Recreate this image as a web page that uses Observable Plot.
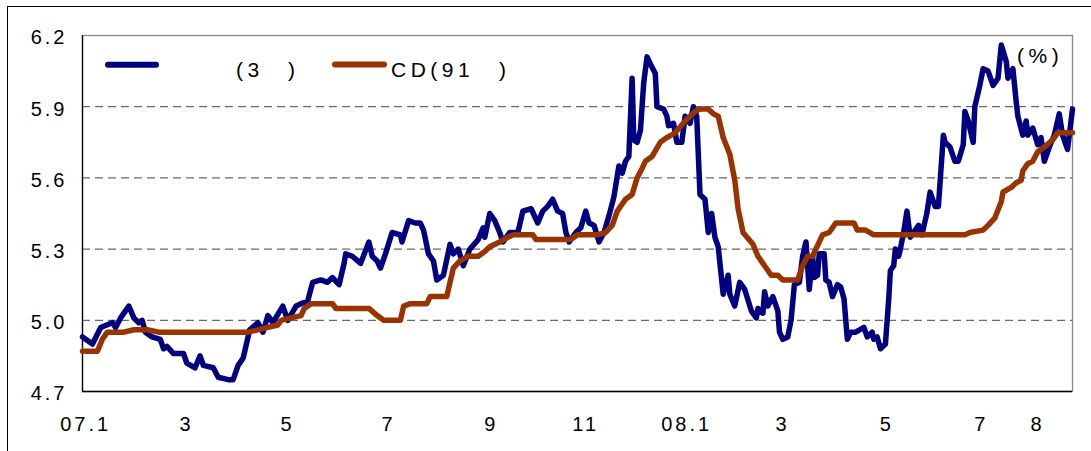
<!DOCTYPE html>
<html>
<head>
<meta charset="utf-8">
<script src="https://cdn.jsdelivr.net/npm/d3@7"></script>
<script src="https://cdn.jsdelivr.net/npm/@observablehq/plot@0.6"></script>
<style>
  body { margin: 0; background: #fff; font-family: "Liberation Sans", Arial, sans-serif; }
  #wrap { position: relative; width: 1091px; height: 451px; overflow: hidden; background: #fff; }
  #outer { position: absolute; left: 7px; top: 6px; width: 1200px; height: 600px; border: 1px solid #000; }
  #chart { position: absolute; left: 0; top: 0; }
  #legend { position: absolute; left: 0; top: 0; pointer-events: none; }
  #legend text { font-family: "Liberation Sans", Arial, sans-serif; font-size: 21px; letter-spacing: 4.5px; fill: #000; }
</style>
</head>
<body>
<div id="wrap">
  <div id="outer"></div>
  <div id="chart"></div>
  <svg id="legend" width="1091" height="451">
    <line x1="108" x2="156" y1="64.7" y2="64.7" stroke="#000080" stroke-width="6" stroke-linecap="round"></line>
    <text x="236" y="76.5">(3</text>
    <text x="288" y="76.5">)</text>
    <line x1="335" x2="384" y1="64.5" y2="64.5" stroke="#993300" stroke-width="6" stroke-linecap="round"></line>
    <text x="391" y="76.5">CD(91</text>
    <text x="499" y="76.5">)</text>
    <text x="1017" y="62.5">(%)</text>
  </svg>
</div>
<script>
// 3-year treasury yield (navy)
const t3Dates = [
"2007-01-02","2007-01-08","2007-01-13","2007-01-20","2007-01-22","2007-01-25","2007-01-30","2007-02-02","2007-02-05","2007-02-07",
"2007-02-09","2007-02-13","2007-02-18","2007-02-20","2007-02-22","2007-02-26","2007-03-04","2007-03-06","2007-03-11","2007-03-14",
"2007-03-16","2007-03-22","2007-03-25","2007-03-31","2007-04-03","2007-04-06","2007-04-09","2007-04-11","2007-04-13","2007-04-18",
"2007-04-21","2007-04-24","2007-04-27","2007-05-03","2007-05-06","2007-05-11","2007-05-14","2007-05-18","2007-05-21","2007-05-26",
"2007-05-30","2007-06-02","2007-06-06","2007-06-09","2007-06-10","2007-06-14","2007-06-19","2007-06-24","2007-06-26","2007-06-29",
"2007-07-01","2007-07-04","2007-07-08","2007-07-13","2007-07-14","2007-07-18","2007-07-22","2007-07-25","2007-07-27","2007-07-30",
"2007-08-02","2007-08-04","2007-08-08","2007-08-12","2007-08-14","2007-08-17","2007-08-20","2007-08-24","2007-08-29","2007-09-01",
"2007-09-02","2007-09-05","2007-09-08","2007-09-11","2007-09-13","2007-09-17","2007-09-22","2007-09-25","2007-09-30","2007-10-04",
"2007-10-07","2007-10-10","2007-10-13","2007-10-16","2007-10-19","2007-10-21","2007-10-23","2007-10-27","2007-10-30","2007-11-02",
"2007-11-04","2007-11-07","2007-11-10","2007-11-13","2007-11-16","2007-11-19","2007-11-22","2007-11-24","2007-11-26","2007-11-28",
"2007-11-30","2007-12-01","2007-12-03","2007-12-05","2007-12-07","2007-12-09","2007-12-11","2007-12-14","2007-12-15","2007-12-19",
"2007-12-21","2007-12-22","2007-12-25","2007-12-27","2007-12-30","2008-01-01","2008-01-04","2008-01-06","2008-01-08","2008-01-10",
"2008-01-13","2008-01-15","2008-01-17","2008-01-19","2008-01-21","2008-01-24","2008-01-27","2008-01-28","2008-01-31","2008-02-03",
"2008-02-06","2008-02-10","2008-02-13","2008-02-14","2008-02-17","2008-02-18","2008-02-20","2008-02-23","2008-02-26","2008-02-27",
"2008-02-29","2008-03-03","2008-03-05","2008-03-07","2008-03-10","2008-03-12","2008-03-14","2008-03-16","2008-03-18","2008-03-19",
"2008-03-21","2008-03-22","2008-03-25","2008-03-26","2008-03-28","2008-03-30","2008-04-02","2008-04-04","2008-04-06","2008-04-08",
"2008-04-10","2008-04-13","2008-04-18","2008-04-20","2008-04-23","2008-04-24","2008-04-26","2008-04-28","2008-05-01","2008-05-03",
"2008-05-04","2008-05-06","2008-05-07","2008-05-09","2008-05-10","2008-05-12","2008-05-14","2008-05-16","2008-05-18","2008-05-21",
"2008-05-23","2008-05-26","2008-05-28","2008-05-31","2008-06-02","2008-06-05","2008-06-06","2008-06-09","2008-06-12","2008-06-14",
"2008-06-17","2008-06-18","2008-06-20","2008-06-23","2008-06-24","2008-06-27","2008-06-29","2008-07-02","2008-07-05","2008-07-08",
"2008-07-10","2008-07-13","2008-07-14","2008-07-17","2008-07-19","2008-07-20","2008-07-23","2008-07-25","2008-07-26","2008-07-29",
"2008-08-01","2008-08-03","2008-08-05","2008-08-08","2008-08-11","2008-08-14","2008-08-16","2008-08-19","2008-08-22"
];
const t3Values = [
4.93,4.90,4.97,4.99,4.97,5.01,5.06,5.01,4.99,5.00,
4.95,4.93,4.92,4.88,4.89,4.86,4.86,4.82,4.80,4.85,
4.81,4.80,4.76,4.75,4.75,4.81,4.84,4.90,4.96,4.99,
4.95,5.02,4.99,5.06,5.00,5.06,5.07,5.08,5.16,5.17,
5.16,5.18,5.15,5.24,5.28,5.27,5.24,5.33,5.27,5.25,
5.22,5.28,5.37,5.36,5.33,5.42,5.41,5.41,5.38,5.28,
5.25,5.17,5.19,5.32,5.28,5.30,5.23,5.30,5.34,5.39,
5.35,5.45,5.42,5.37,5.33,5.37,5.37,5.46,5.47,5.41,
5.46,5.48,5.51,5.46,5.45,5.37,5.33,5.37,5.39,5.46,
5.41,5.40,5.33,5.37,5.44,5.52,5.65,5.62,5.67,5.69,
6.02,5.76,5.75,5.80,6.00,6.11,6.08,6.04,5.90,5.89,
5.86,5.82,5.83,5.75,5.75,5.86,5.83,5.90,5.86,5.53,
5.51,5.37,5.45,5.35,5.31,5.11,5.19,5.11,5.06,5.16,
5.13,5.04,5.01,5.05,5.03,5.12,5.06,5.10,5.04,4.95,
4.92,4.93,5.00,5.15,5.16,5.27,5.33,5.13,5.27,5.18,
5.19,5.28,5.28,5.17,5.16,5.10,5.15,5.14,5.09,4.92,
4.95,4.95,4.97,4.93,4.95,4.92,4.93,4.88,4.90,5.09,
5.21,5.23,5.30,5.27,5.30,5.37,5.46,5.35,5.37,5.40,
5.36,5.45,5.54,5.48,5.48,5.78,5.75,5.73,5.67,5.67,
5.74,5.88,5.84,5.75,5.90,5.99,6.06,6.05,5.99,6.02,
6.16,6.09,6.02,6.06,5.92,5.86,5.78,5.84,5.78,5.81,
5.74,5.77,5.67,5.73,5.78,5.87,5.78,5.72,5.89
];

// CD (91-day) rate (brown)
const cdDates = [
"2007-01-02","2007-01-11","2007-01-14","2007-01-17","2007-01-27","2007-02-02","2007-02-10","2007-02-17","2007-04-12","2007-04-24",
"2007-04-30","2007-05-02","2007-05-08","2007-05-14","2007-05-16","2007-05-20","2007-06-02","2007-06-04","2007-06-24","2007-06-29",
"2007-07-03","2007-07-13","2007-07-15","2007-07-19","2007-07-29","2007-07-31","2007-08-10","2007-08-14","2007-08-18","2007-08-23",
"2007-08-29","2007-09-02","2007-09-05","2007-09-11","2007-09-16","2007-09-19","2007-10-01","2007-10-03","2007-10-24","2007-10-28",
"2007-11-09","2007-11-14","2007-11-18","2007-11-21","2007-11-26","2007-11-30","2007-12-03","2007-12-06","2007-12-08","2007-12-12",
"2007-12-17","2007-12-21","2007-12-26","2008-01-01","2008-01-07","2008-01-10","2008-01-15","2008-01-18","2008-01-21","2008-01-24",
"2008-01-28","2008-01-31","2008-02-02","2008-02-05","2008-02-11","2008-02-14","2008-02-17","2008-02-22","2008-02-26","2008-02-29",
"2008-03-09","2008-03-12","2008-03-15","2008-03-18","2008-03-22","2008-03-24","2008-03-28","2008-04-01","2008-04-12","2008-04-14",
"2008-04-19","2008-04-24","2008-06-18","2008-06-21","2008-06-29","2008-07-02","2008-07-06","2008-07-10","2008-07-11","2008-07-16",
"2008-07-19","2008-07-22","2008-07-23","2008-07-26","2008-07-29","2008-08-01","2008-08-05","2008-08-10","2008-08-13","2008-08-22"
];
const cdValues = [
4.87,4.87,4.92,4.95,4.95,4.96,4.96,4.95,4.95,4.97,
4.98,5.00,5.01,5.02,5.05,5.07,5.07,5.05,5.05,5.02,
5.00,5.00,5.06,5.07,5.07,5.10,5.10,5.22,5.25,5.27,
5.27,5.29,5.31,5.33,5.35,5.36,5.36,5.34,5.34,5.36,
5.36,5.37,5.40,5.46,5.51,5.53,5.60,5.64,5.67,5.69,
5.75,5.77,5.79,5.84,5.88,5.89,5.89,5.87,5.86,5.77,
5.70,5.59,5.47,5.37,5.32,5.27,5.24,5.19,5.19,5.17,
5.17,5.23,5.27,5.27,5.33,5.36,5.37,5.41,5.41,5.38,
5.38,5.36,5.36,5.37,5.38,5.40,5.43,5.50,5.54,5.56,
5.58,5.59,5.63,5.66,5.67,5.71,5.73,5.76,5.79,5.79
];

const yTicks = [4.7, 5.0, 5.3, 5.6, 5.9, 6.2];
const gridValues = [5.0, 5.3, 5.6, 5.9];
const xTickDates = ["2007-01-03","2007-03-05","2007-05-05","2007-07-05","2007-09-05","2007-11-01","2008-01-01","2008-02-28","2008-05-01","2008-06-27","2008-07-31"];
const xTickLabels = ["07.1","3","5","7","9","11","08.1","3","5","7","8"];
const xDomain = ["2007-01-02", "2008-08-22"];

const parse = d3.utcParse("%Y-%m-%d");
const t3 = t3Dates.map((d, i) => ({date: parse(d), value: t3Values[i]}));
const cd = cdDates.map((d, i) => ({date: parse(d), value: cdValues[i]}));
const ticks = xTickDates.map(parse);
const labelMap = new Map(ticks.map((d, i) => [+d, xTickLabels[i]]));
const domain = xDomain.map(parse);

const chart = Plot.plot({
  width: 1091,
  height: 451,
  marginLeft: 82,
  marginRight: 19,
  marginTop: 35,
  marginBottom: 60,
  style: {fontFamily: "'Liberation Sans', Arial, sans-serif", fontSize: "20px", color: "#000", background: "transparent", overflow: "visible"},
  x: {type: "utc", domain},
  y: {domain: [4.7, 6.2]},
  marks: [
    Plot.ruleY(gridValues, {stroke: "#444", strokeWidth: 1, strokeDasharray: "8,5"}),
    Plot.frame({stroke: "#888", strokeWidth: 1.3}),
    Plot.ruleY([4.7], {stroke: "#000", strokeWidth: 1.3}),
    Plot.ruleX([domain[0]], {stroke: "#000", strokeWidth: 1.3}),
    Plot.axisY({ticks: yTicks, tickSize: 0, tickPadding: 15, tickFormat: d3.format(".1f"), label: null, dy: 2.5}),
    Plot.axisX({ticks, tickSize: 0, tickPadding: 25, tickFormat: d => labelMap.get(+d), label: null, dx: 1.5}),
    Plot.line(t3, {x: "date", y: "value", stroke: "#000080", strokeWidth: 5.5, strokeLinejoin: "round", strokeLinecap: "round"}),
    Plot.line(cd, {x: "date", y: "value", stroke: "#993300", strokeWidth: 5.5, strokeLinejoin: "round", strokeLinecap: "round"})
  ]
});
document.getElementById("chart").appendChild(chart);
d3.select(chart).selectAll('g[aria-label="x-axis tick label"] text').style("letter-spacing", "3px");
d3.select(chart).selectAll('g[aria-label="y-axis tick label"] text').style("letter-spacing", "3px");
</script>
</body>
</html>
